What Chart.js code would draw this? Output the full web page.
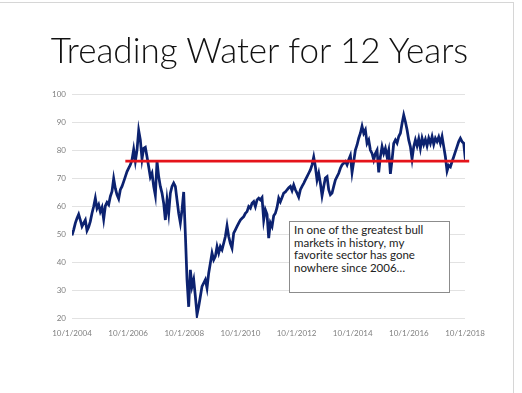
<!DOCTYPE html>
<html>
<head>
<meta charset="utf-8">
<script src="https://cdn.jsdelivr.net/npm/chart.js@4.4.0/dist/chart.umd.min.js"></script>
<style>
  html, body { margin: 0; padding: 0; background: #fff; }
  #slide { position: relative; width: 522px; height: 393px; overflow: hidden; }
  #borde { position: absolute; left: -1px; top: 2px; width: 513px; height: 400px; border: 1px solid #d6d6d6; }
  #grafico { position: absolute; left: 0; top: 0; }
  #titulo { position: absolute; left: 0; top: 32px; width: 519px; text-align: center;
            font-family: Lato, sans-serif; font-weight: 300; font-size: 35px; line-height: 35px;
            color: #111; white-space: nowrap; }
  #nota { position: absolute; left: 289px; top: 221px; width: 161px; height: 72px; box-sizing: border-box;
          border: 1px solid #8c8c8c; padding: 2px 4px; background: #fff;
          font-family: Lato, sans-serif; font-size: 11.5px; line-height: 12.7px; color: #222; white-space: nowrap; }
</style>
</head>
<body>
<div id="slide">
  <div id="borde"></div>
  <canvas id="grafico" width="522" height="393"></canvas>
  <div id="titulo">Treading Water for 12 Years</div>
  <div id="nota">In one of the greatest bull<br>markets in history, my<br>favorite sector has gone<br>nowhere since 2006…</div>
</div>
<script>
// serie, un valor cada ~3 semanas desde 10/1/2004
const startYear = 2004.75;
const stepYears = 5 / 84.2;
const sectorValues = [
  49.5, 51.5, 53.9, 55.6, 57, 55, 52.7, 53.9, 55, 51.2,
  52.5, 54.5, 57.4, 59.8, 62.8, 59.2, 60.5, 58, 59.5, 55.3,
  60, 61.3, 60.5, 63.4, 65.2, 69.8, 66.3, 64, 62.6, 65.8,
  67, 68.7, 70.5, 72.3, 73.5, 74.7, 76.5, 80.2, 76, 80,
  87, 83.6, 76.8, 80.6, 81, 77.6, 74, 70.3, 71.7, 67,
  63.8, 76, 70.5, 67, 64.6, 61, 55, 62.2, 57.4, 64.6,
  67, 68.2, 67, 62.2, 57.4, 54, 58.6, 65, 50, 33.7,
  24, 37.2, 31.3, 33.7, 27.7, 21.2, 24.1, 27.7, 31.3, 32.5,
  33.7, 30.7, 36, 39.6, 43.2, 40.8, 42, 45.5, 43.2, 45.5,
  44.4, 46.7, 49.1, 52.9, 49.1, 46.7, 45, 50.3, 51.5, 52.7,
  53.9, 55, 55.6, 56.2, 57.4, 58, 59.8, 59.2, 61, 61.6,
  59.8, 62.2, 62.8, 62.2, 63, 55, 58.6, 57, 48.5, 54,
  52.7, 56.5, 57.4, 59.5, 62.8, 61.5,
  63, 64.6, 65, 65.8, 66.5, 67, 65.5, 67.5, 65.8, 64.6,
  63.2, 65.8, 67, 68.1, 69.3, 70.5, 71.7, 72.9, 74.7, 77.5,
  74, 69.3, 71.7, 68.1, 63.7, 67, 70, 70.5, 65.8, 64,
  64.6, 67, 69.3, 70.5, 71.7, 73.5, 74.7, 75.3, 75.9, 74.7,
  76.5, 78, 72, 75.9, 80, 81.8, 84.2, 86, 88.5, 86,
  87.2, 82.4, 83.6, 80, 78.8, 76.5, 78.8, 80, 72, 77.6,
  81.2, 78.8, 80.6, 77.6, 80, 71.5, 76.5, 82.4, 83.6, 82.5,
  84.8, 86, 89.5, 92.5, 90.1, 87.2, 83.6, 81.2, 76.8, 81.2,
  83.6, 81.5, 84, 80.6, 84.2, 82, 83.8, 81.5, 84.2, 82.4,
  84.8, 82, 84.2, 83, 84.6, 82.4, 84.8, 81.2, 77.6, 72.5,
  74.5, 74, 75.9, 77.6, 79.4, 81.2, 83, 84.2, 83, 82.4,
  76.5
];

// linea roja: nivel de 2006
const flatLevel = 76;
const flatFrom = 2006.65;
const flatTo = 2018.9;

// etiquetas de los ejes
const yearTicks = [2004.75, 2006.75, 2008.75, 2010.75, 2012.75, 2014.75, 2016.75, 2018.75];
const yMin = 20;
const yMax = 100;
const yStep = 10;

document.addEventListener("DOMContentLoaded", function () {
    var ctx = document.getElementById("grafico").getContext("2d");

    var puntos = sectorValues.map(function (v, i) {
        return { x: startYear + i * stepYears, y: v };
    });

    new Chart(ctx, {
        type: "line",
        data: {
            datasets: [
                {
                    data: [{ x: flatFrom, y: flatLevel }, { x: flatTo, y: flatLevel }],
                    borderColor: "#e5141b",
                    borderWidth: 2.75,
                    pointRadius: 0,
                    clip: false,
                    order: 0
                },
                {
                    data: puntos,
                    borderColor: "#0c2270",
                    borderWidth: 2.75,
                    pointRadius: 0,
                    tension: 0,
                    order: 1
                }
            ]
        },
        options: {
            responsive: false,
            animation: false,
            layout: { padding: { top: 94, right: 57, bottom: 55, left: 0 } },
            plugins: {
                legend: { display: false },
                tooltip: { enabled: false }
            },
            scales: {
                x: {
                    type: "linear",
                    min: yearTicks[0],
                    max: yearTicks[yearTicks.length - 1],
                    grid: { display: false },
                    border: { display: false },
                    afterBuildTicks: function (scale) {
                        scale.ticks = yearTicks.map(function (v) { return { value: v }; });
                    },
                    afterFit: function (scale) { scale.height = 20; },
                    ticks: {
                        padding: 3,
                        maxRotation: 0,
                        autoSkip: false,
                        color: "#7f7f7f",
                        font: { family: "Lato", size: 8 },
                        callback: function (v) { return "10/1/" + Math.floor(v); }
                    }
                },
                y: {
                    min: yMin,
                    max: yMax,
                    grid: { color: "#e2e2e2", drawTicks: false },
                    border: { display: false },
                    afterFit: function (scale) { scale.width = 72; },
                    ticks: {
                        stepSize: yStep,
                        padding: 6,
                        color: "#7f7f7f",
                        font: { family: "Lato", size: 8 }
                    }
                }
            }
        }
    });
});
</script>
</body>
</html>
